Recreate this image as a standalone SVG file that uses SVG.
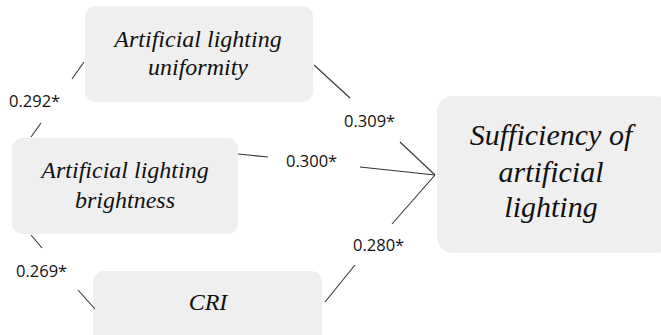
<svg xmlns="http://www.w3.org/2000/svg" width="661" height="335" viewBox="0 0 661 335">
<style>
.box{fill:#efefef;stroke:none}
.t{font-family:"Liberation Serif","Times New Roman",serif;font-style:italic;fill:#111;text-anchor:middle}
.l{font-family:"Open Sans","Liberation Sans",Arial,sans-serif;font-size:16.5px;fill:#111}
.c{stroke:#333;stroke-width:1.1;fill:none}
</style>
<rect width="661" height="335" fill="#fff"/>
<g id="uniformity">
<rect class="box" x="85" y="6" width="228" height="96" rx="11"/>
<text class="t" x="198" y="47" font-size="24">Artificial lighting</text>
<text class="t" x="198" y="75" font-size="24">uniformity</text>
</g>
<g id="brightness">
<rect class="box" x="12" y="138" width="226" height="96" rx="11"/>
<text class="t" x="125" y="178" font-size="24">Artificial lighting</text>
<text class="t" x="125" y="208" font-size="24">brightness</text>
</g>
<g id="cri">
<rect class="box" x="93" y="271" width="229" height="75" rx="11"/>
<text class="t" x="208" y="310" font-size="24">CRI</text>
</g>
<g id="sufficiency">
<rect class="box" x="437" y="96" width="235" height="157" rx="16"/>
<text class="t" x="551" y="145" font-size="30">Sufficiency of</text>
<text class="t" x="551" y="182" font-size="30">artificial</text>
<text class="t" x="551" y="217" font-size="30">lighting</text>
</g>
<g id="connectors">
<line class="c" x1="72" y1="79" x2="84" y2="62"/>
<line class="c" x1="31" y1="137" x2="41" y2="123"/>
<text class="l" x="9" y="107">0.292*</text>
<line class="c" x1="314" y1="65" x2="350" y2="98"/>
<line class="c" x1="400" y1="142" x2="435" y2="175"/>
<text class="l" x="344" y="127">0.309*</text>
<line class="c" x1="238" y1="154" x2="268" y2="157"/>
<line class="c" x1="360" y1="167" x2="435" y2="175"/>
<text class="l" x="286" y="167">0.300*</text>
<line class="c" x1="392" y1="224" x2="435" y2="175"/>
<line class="c" x1="355" y1="265" x2="325" y2="302"/>
<text class="l" x="353" y="251">0.280*</text>
<line class="c" x1="31" y1="235" x2="42" y2="248"/>
<line class="c" x1="78" y1="290" x2="95" y2="309"/>
<text class="l" x="16" y="277">0.269*</text>
</g>
</svg>
